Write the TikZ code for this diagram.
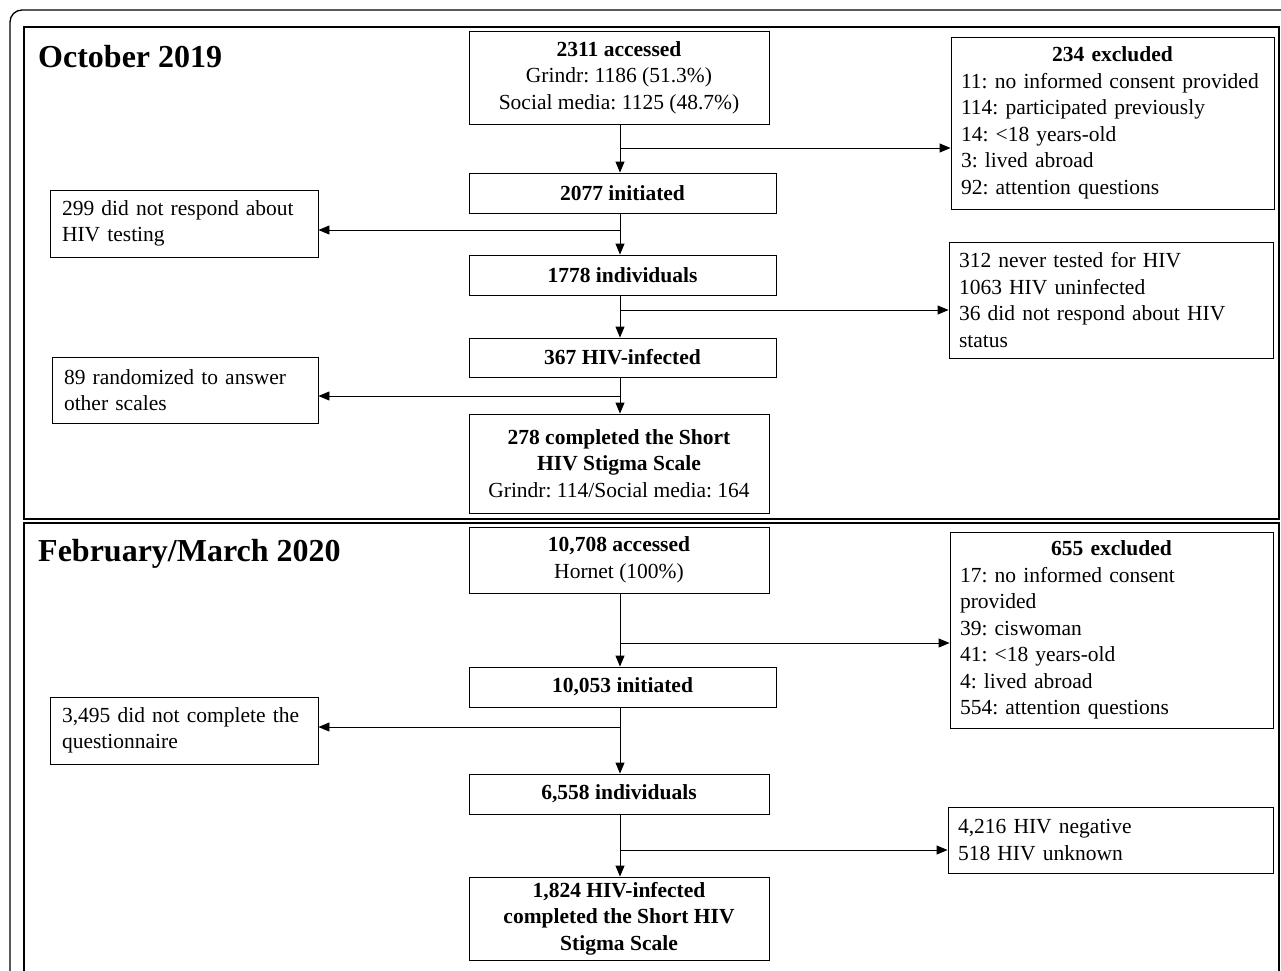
\documentclass[tikz,border=0pt]{standalone}
\usepackage{fontspec}
\setmainfont{Liberation Serif}
\usetikzlibrary{arrows.meta}
\begin{document}
\frenchspacing
\hyphenpenalty=10000
\begin{tikzpicture}[x=1pt,y=-1pt,
  box/.style={draw, line width=0.9pt, inner sep=0pt, font=\fontsize{21.5}{26.5}\selectfont\frenchspacing},
  cbox/.style={box, align=center},
  lbox/.style={box, align=left, inner xsep=12pt},
  rbox/.style={box, align=left, inner xsep=10pt},
  arr/.style={line width=0.9pt, -{Triangle[length=11pt,width=9pt]}},
  panel/.style={line width=2pt},
  frame/.style={line width=1.3pt},
  ttl/.style={font=\fontsize{32}{38}\selectfont\bfseries, inner sep=0pt, anchor=base west}]
\useasboundingbox (0,0) rectangle (1281,970);
% outer frame and panels
\draw[frame, rounded corners=12pt] (10,990) -- (10,10) -- (1300,10);
\draw[panel] (24,27) rectangle (1279,519);
\draw[panel] (24,990) -- (24,523) -- (1279,523) -- (1279,990);
% titles
\node[ttl] (t1) at (38,67) {October 2019};
\node[ttl] (t2) at (38,561) {February/March 2020};
% panel 1 main column
\node[cbox, minimum width=300pt, minimum height=93pt] (a1) at (619,77.5) {\textbf{2311 accessed}\\Grindr: 1186 (51.3\%)\\Social media: 1125 (48.7\%)};
\node[cbox, minimum width=307pt, minimum height=40pt] (b1) at (622.5,193) {\textbf{2077 initiated}};
\node[cbox, minimum width=307pt, minimum height=40pt] (c1) at (622.5,275) {\textbf{1778 individuals}};
\node[cbox, minimum width=307pt, minimum height=39pt] (d1) at (622.5,357.5) {\textbf{367 HIV-infected}};
\node[cbox, minimum width=300pt, minimum height=99pt] (e1) at (619,463.5) {\textbf{278 completed the Short}\\\textbf{HIV Stigma Scale}\\Grindr: 114/Social media: 164};
% panel 1 side boxes
\node[rbox, text width=303pt, minimum height=172pt] (x1) at (1112.5,123) {\hspace*{\fill}\textbf{234 excluded}\hspace*{\fill}\mbox{}\\11: no informed consent provided\\114: participated previously\\14: <18 years-old\\3: lived abroad\\92: attention questions};
\node[lbox, text width=244pt, minimum height=67pt] (l1) at (184,223.5) {299 did not respond about\\HIV testing};
\node[rbox, text width=304pt, minimum height=116pt] (y1) at (1111,300) {312 never tested for HIV\\1063 HIV uninfected\\36 did not respond about HIV\\status};
\node[lbox, text width=242pt, minimum height=66pt] (l2) at (185,390) {89 randomized to answer\\other scales};
% panel 2 main column
\node[cbox, minimum width=300pt, minimum height=66pt] (a2) at (619,560) {\textbf{10,708 accessed}\\Hornet (100\%)};
\node[cbox, minimum width=307pt, minimum height=40pt] (b2) at (622.5,687) {\textbf{10,053 initiated}};
\node[cbox, minimum width=300pt, minimum height=40pt] (c2) at (619,794) {\textbf{6,558 individuals}};
\node[cbox, minimum width=300pt, minimum height=83pt] (d2) at (619,918.5) {\textbf{1,824 HIV-infected}\\\textbf{completed the Short HIV}\\\textbf{Stigma Scale}};
% panel 2 side boxes
\node[rbox, text width=303pt, minimum height=196pt] (x2) at (1111.5,630) {\hspace*{\fill}\textbf{655 excluded}\hspace*{\fill}\mbox{}\\17: no informed consent\\provided\\39: ciswoman\\41: <18 years-old\\4: lived abroad\\554: attention questions};
\node[lbox, text width=244pt, minimum height=67pt] (l3) at (184,730.5) {3,495 did not complete the\\questionnaire};
\node[rbox, text width=305pt, minimum height=66pt] (y2) at (1110.5,840) {4,216 HIV negative\\518 HIV unknown};
% junctions
\coordinate (j1) at (620,148);
\coordinate (j2) at (620,230);
\coordinate (j3) at (620,310);
\coordinate (j4) at (620,396);
\coordinate (k1) at (620,643);
\coordinate (k2) at (620,727);
\coordinate (k3) at (620,850);
% connectors panel 1
\draw[arr] (a1.south -| j1) -- (b1.north -| j1);
\draw[arr] (j1) -- (x1.west |- j1);
\draw[arr] (b1.south -| j2) -- (c1.north -| j2);
\draw[arr] (j2) -- (l1.east |- j2);
\draw[arr] (c1.south -| j3) -- (d1.north -| j3);
\draw[arr] (j3) -- (y1.west |- j3);
\draw[arr] (d1.south -| j4) -- (e1.north -| j4);
\draw[arr] (j4) -- (l2.east |- j4);
% connectors panel 2
\draw[arr] (a2.south -| k1) -- (b2.north -| k1);
\draw[arr] (k1) -- (x2.west |- k1);
\draw[arr] (b2.south -| k2) -- (c2.north -| k2);
\draw[arr] (k2) -- (l3.east |- k2);
\draw[arr] (c2.south -| k3) -- (d2.north -| k3);
\draw[arr] (k3) -- (y2.west |- k3);
\end{tikzpicture}
\end{document}
